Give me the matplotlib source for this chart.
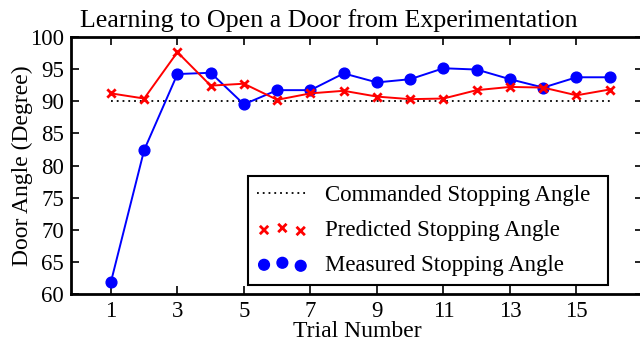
"""Door opening trials: commanded vs predicted vs measured stopping angle."""

import matplotlib

matplotlib.use("Agg")
import matplotlib.pyplot as plt

trials = list(range(1, 17))
commanded = [90.0] * 16
predicted = [91.2, 90.4, 97.6, 92.4, 92.7, 90.2, 91.2, 91.6,
             90.7, 90.3, 90.4, 91.7, 92.2, 92.1, 90.9, 91.8]
measured = [61.9, 82.4, 94.2, 94.4, 89.5, 91.7, 91.7, 94.3,
            92.9, 93.4, 95.1, 94.9, 93.4, 92.1, 93.7, 93.7]
xticks = [1, 3, 5, 7, 9, 11, 13, 15]
yticks = [60, 65, 70, 75, 80, 85, 90, 95, 100]

plt.rcParams["font.family"] = ["Liberation Serif", "DejaVu Serif"]

W, H = 640, 343
fig = plt.figure(figsize=(W / 100, H / 100), dpi=100)
ax = fig.add_axes([71 / W, 1 - 294.3 / H, (643 - 71) / W, (294.3 - 36.7) / H])

cmd_line, = ax.plot(trials, commanded, linestyle=(0, (1, 2.2)), color="black",
                    lw=1.3, label="Commanded Stopping Angle")
ax.plot(trials, measured, color="blue", lw=1.4, zorder=2)
meas_pts = ax.scatter(trials, measured, s=60, color="blue", zorder=3,
                      label="Measured Stopping Angle")
ax.plot(trials, predicted, color="red", lw=1.4, zorder=4)
pred_pts = ax.scatter(trials, predicted, s=36, marker="x", color="red",
                      linewidths=2, zorder=5, label="Predicted Stopping Angle")

ax.set_xlim(-0.2, 17)
ax.set_ylim(60, 100)
ax.set_xticks(xticks)
ax.set_yticks(yticks)
ax.tick_params(direction="in", length=6, width=1.2, labelsize=16.5,
               top=True, right=True, pad=5)
for spine in ax.spines.values():
    spine.set_linewidth(2)

ax.set_xlabel("Trial Number", fontsize=17, labelpad=-1)
ax.set_ylabel("Door Angle (Degree)", fontsize=17, labelpad=-2)
fig.text(329 / W, 1 - 27 / H, "Learning to Open a Door from Experimentation",
         ha="center", va="baseline", fontsize=18.7)

leg = ax.legend(handles=[cmd_line, pred_pts, meas_pts], loc="upper left",
                bbox_to_anchor=(248 / W, 1 - 176 / H, (608 - 248) / W, 0),
                bbox_transform=fig.transFigure, mode="expand",
                fontsize=16.5, fancybox=False, edgecolor="black",
                framealpha=1, borderaxespad=0, handlelength=2.2,
                handletextpad=0.75, scatterpoints=3, labelspacing=0.6,
                borderpad=0.4)
leg.get_frame().set_linewidth(1.5)

fig.savefig("out.png", dpi=100)
